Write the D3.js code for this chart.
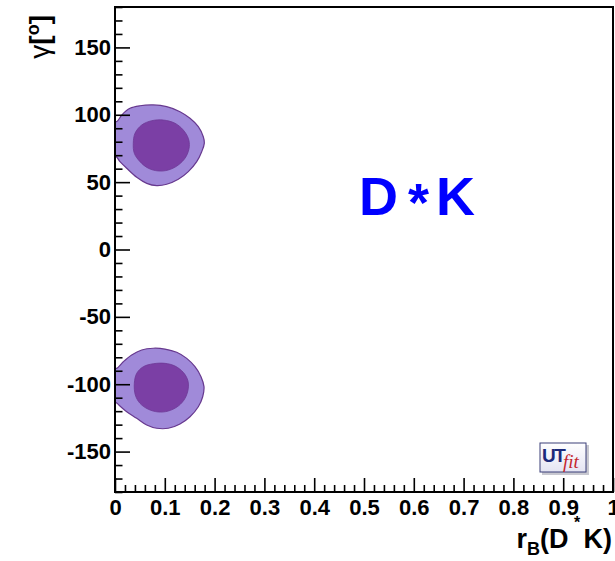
<!DOCTYPE html>
<html>
<head>
<meta charset="utf-8">
<script src="https://cdn.jsdelivr.net/npm/d3@7"></script>
<style>
  body { margin: 0; background: #fff; }
  svg { display: block; }
  text { font-family: "Liberation Sans", Arial, Helvetica, sans-serif; font-weight: bold; }
</style>
</head>
<body>
<svg id="chart" width="615" height="561"></svg>
<script>
// Axis ranges and tick values
const xDomain = [0, 1];
const yDomain = [-180, 180];
const xMajorTicks = [0, 0.1, 0.2, 0.3, 0.4, 0.5, 0.6, 0.7, 0.8, 0.9, 1];
const xTickLabels = ["0", "0.1", "0.2", "0.3", "0.4", "0.5", "0.6", "0.7", "0.8", "0.9", "1"];
const yMajorTicks = [-150, -100, -50, 0, 50, 100, 150];
const yTickLabels = ["-150", "-100", "-50", "0", "50", "100", "150"];

// Probability regions in the (r_B, gamma) plane: [r_B, gamma in degrees]
const upperOuter = [
  [-0.006, 96], [0.0034, 94.9], [0.0135, 99.8], [0.0301, 104.8], [0.0502, 106.7], [0.0769, 107.3],
  [0.1038, 106.0], [0.1305, 102.3], [0.1506, 97.4], [0.1673, 91.2], [0.1773, 83.7],
  [0.1793, 78.8], [0.1741, 72.6], [0.1641, 65.2], [0.1472, 57.8], [0.1271, 52.1],
  [0.1038, 48.4], [0.0837, 47.4], [0.0637, 49.1], [0.0436, 53.6], [0.0235, 60.3],
  [0.0100, 65.2], [0.0020, 68.9], [-0.006, 67.5], [-0.01, 82]
];
const upperInner = [
  [0.0402, 86.3], [0.0536, 92.4], [0.0737, 95.6], [0.0970, 96.1], [0.1205, 93.7],
  [0.1371, 88.7], [0.1472, 82.5], [0.1492, 76.3], [0.1426, 68.9], [0.1271, 62.7],
  [0.1070, 59.0], [0.0869, 58.3], [0.0669, 60.3], [0.0502, 65.2], [0.0388, 71.4],
  [0.0367, 78.8]
];
const lowerOuter = [
  [-0.006, -87.5], [0.0034, -88.2], [0.0167, -83.3], [0.0335, -78.3], [0.0536, -74.6], [0.0769, -73.3],
  [0.1004, -73.9], [0.1239, -76.3], [0.1440, -80.8], [0.1606, -87.0], [0.1727, -94.4],
  [0.1787, -101.8], [0.1761, -109.3], [0.1673, -116.7], [0.1506, -124.1], [0.1305, -129.5],
  [0.1070, -132.7], [0.0837, -132.7], [0.0637, -130.3], [0.0436, -125.3], [0.0235, -120.4],
  [0.0100, -116.2], [0.0020, -113.7], [-0.006, -114.5], [-0.01, -101]
];
const lowerInner = [
  [0.0436, -91.9], [0.0568, -87.0], [0.0769, -84.8], [0.1004, -84.5], [0.1205, -86.5],
  [0.1371, -91.2], [0.1460, -96.9], [0.1472, -103.0], [0.1406, -110.5], [0.1271, -116.2],
  [0.1070, -119.9], [0.0869, -120.6], [0.0669, -118.6], [0.0502, -114.2], [0.0408, -108.0],
  [0.0388, -99.3]
];

const frame = { left: 115, right: 613, top: 7, bottom: 492 };
const svg = d3.select("#chart");
const defs = svg.append("defs");

const x = d3.scaleLinear().domain(xDomain).range([frame.left, frame.right]);
const y = d3.scaleLinear().domain(yDomain).range([frame.bottom, frame.top]);

// Clip regions to the plotting frame
defs.append("clipPath").attr("id", "plotClip")
  .append("rect")
  .attr("x", frame.left).attr("y", frame.top)
  .attr("width", frame.right - frame.left).attr("height", frame.bottom - frame.top);

const area = d3.line()
  .x(d => x(d[0])).y(d => y(d[1]))
  .curve(d3.curveCatmullRomClosed.alpha(0.5));

const regions = svg.append("g").attr("clip-path", "url(#plotClip)");
const outerFill = "#a08ad9", innerFill = "#7b3fa5", edge = "#67398f";
[upperOuter, lowerOuter].forEach(pts => {
  regions.append("path").attr("d", area(pts))
    .attr("fill", outerFill).attr("stroke", edge).attr("stroke-width", 1.2);
});
[upperInner, lowerInner].forEach(pts => {
  regions.append("path").attr("d", area(pts))
    .attr("fill", innerFill).attr("stroke", "#6d3896").attr("stroke-width", 0.8);
});

// Minor ticks
const xMinor = d3.range(0, 1.0001, 0.02).filter(v => Math.abs(v * 10 - Math.round(v * 10)) > 1e-6);
const yMinor = d3.range(-180, 180.001, 10).filter(v => v % 50 !== 0);

const tickStyle = g => {
  g.select(".domain").remove();
  g.selectAll(".tick line").attr("stroke", "#000").attr("stroke-width", 1.6);
  g.selectAll(".tick text")
    .attr("fill", "#000")
    .style("font-size", "22px")
    .style("font-weight", "bold")
    .style("font-family", "'Liberation Sans', Arial, Helvetica, sans-serif");
};

svg.append("g").attr("transform", `translate(0,${frame.bottom})`)
  .call(d3.axisBottom(x).tickValues(xMinor).tickSize(-7).tickFormat(""))
  .call(tickStyle);
svg.append("g").attr("transform", `translate(0,${frame.bottom})`)
  .call(d3.axisBottom(x).tickValues(xMajorTicks).tickSize(-14).tickPadding(7)
    .tickFormat((d, i) => xTickLabels[i]))
  .call(tickStyle);

svg.append("g").attr("transform", `translate(${frame.left},0)`)
  .call(d3.axisLeft(y).tickValues(yMinor).tickSize(-7.5).tickFormat(""))
  .call(tickStyle);
svg.append("g").attr("transform", `translate(${frame.left},0)`)
  .call(d3.axisLeft(y).tickValues(yMajorTicks).tickSize(-15).tickPadding(4)
    .tickFormat((d, i) => yTickLabels[i]))
  .call(tickStyle);

// Frame
svg.append("rect")
  .attr("x", frame.left).attr("y", frame.top)
  .attr("width", frame.right - frame.left).attr("height", frame.bottom - frame.top)
  .attr("fill", "none").attr("stroke", "#000").attr("stroke-width", 2);

// Channel label
const channel = svg.append("text")
  .attr("y", 215)
  .attr("fill", "#0000ff")
  .style("font-size", "54px");
channel.append("tspan").attr("x", 359).text("D");
channel.append("tspan").attr("x", 408).attr("dy", 6).text("*");
channel.append("tspan").attr("x", 436).attr("dy", -6).text("K");

// Y axis title
const yTitle = svg.append("text")
  .attr("transform", "translate(49,15) rotate(-90)")
  .attr("text-anchor", "end")
  .style("font-size", "28px")
  .attr("fill", "#000");
yTitle.append("tspan").style("font-weight", "normal").text("γ");
yTitle.append("tspan").text("[");
yTitle.append("tspan").attr("dy", -10).style("font-size", "18px").text("o");
yTitle.append("tspan").attr("dy", 10).text("]");

// X axis title (the superscript star of D* sits above, near the last tick labels)
const xTitle = svg.append("text")
  .attr("x", 612).attr("y", 548)
  .attr("text-anchor", "end")
  .style("font-size", "27px")
  .style("white-space", "pre")
  .attr("fill", "#000");
xTitle.append("tspan").text("r");
xTitle.append("tspan").attr("dy", 7).style("font-size", "18px").text("B");
xTitle.append("tspan").attr("dy", -7).text("(D  K)");
svg.append("text")
  .attr("x", 574).attr("y", 528)
  .style("font-size", "16px")
  .attr("fill", "#000")
  .text("*");

// UTfit badge
const badge = svg.append("g").attr("transform", "translate(540,443)");
const grad = defs.append("linearGradient").attr("id", "badgeGrad")
  .attr("x1", 0).attr("y1", 0).attr("x2", 0).attr("y2", 1);
grad.append("stop").attr("offset", "0%").attr("stop-color", "#ffffff");
grad.append("stop").attr("offset", "100%").attr("stop-color", "#e4e4f2");
badge.append("rect").attr("x", 2).attr("y", 2).attr("width", 47).attr("height", 30)
  .attr("fill", "#c8c8d0");
badge.append("rect").attr("x", 0).attr("y", 0).attr("width", 46).attr("height", 29)
  .attr("fill", "url(#badgeGrad)").attr("stroke", "#3a3f78").attr("stroke-width", 1);
badge.append("text").attr("x", 2).attr("y", 19)
  .attr("fill", "#1d2a7a").style("font-size", "19px").style("letter-spacing", "-1.5px").text("UT");
badge.append("text").attr("x", 23).attr("y", 25)
  .attr("fill", "#c4262e")
  .style("font-family", "'Liberation Serif', 'DejaVu Serif', serif")
  .style("font-style", "italic").style("font-weight", "normal")
  .style("font-size", "19px").text("fit");
</script>
</body>
</html>
